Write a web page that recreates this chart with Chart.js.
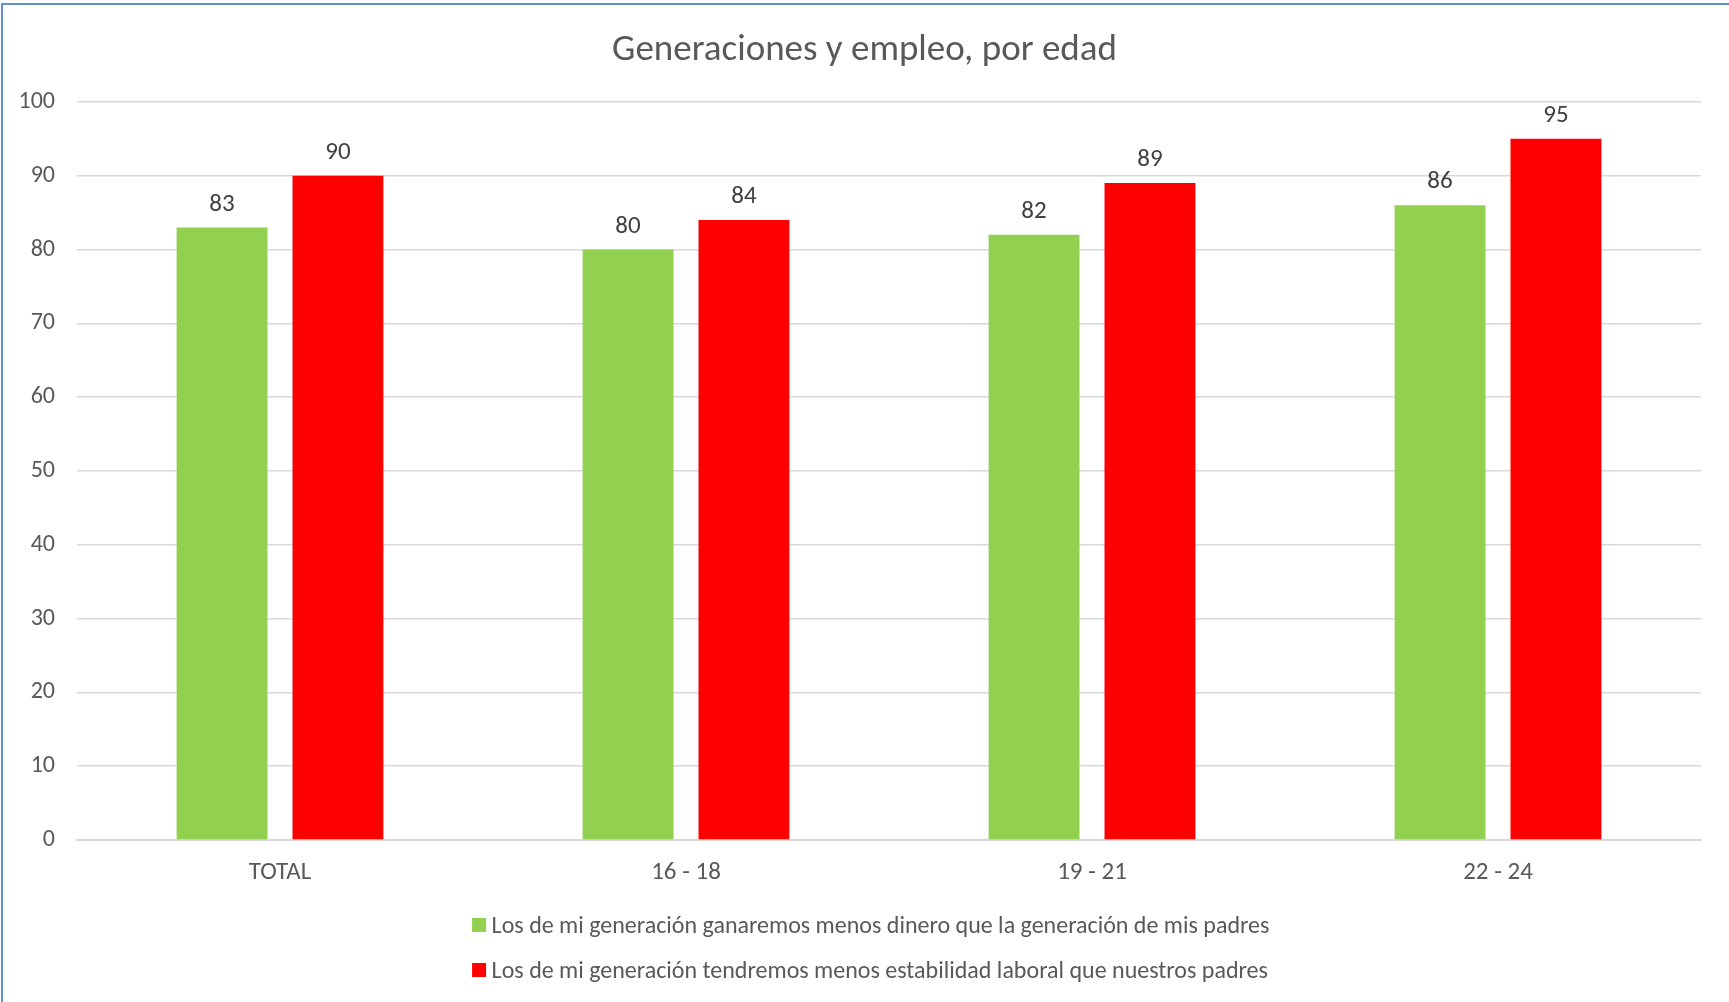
<!DOCTYPE html>
<html>
<head>
<meta charset="utf-8">
<title>Generaciones y empleo, por edad</title>
<script src="https://cdn.jsdelivr.net/npm/chart.js@4.4.0/dist/chart.umd.min.js"></script>
<style>
  html, body { margin: 0; padding: 0; background: #fff; }
  #wrap { position: relative; width: 1729px; height: 1002px; overflow: hidden; }
  #frame { position: absolute; left: 1px; top: 3px; width: 1800px; height: 1100px;
           border-top: 2px solid #6390d0; border-left: 2px solid #6390d0; pointer-events: none; }
  canvas { position: absolute; left: 0; top: 0; }
  #legend { position: absolute; top: 902px; left: 50%; transform: translateX(-50%); margin-left: 6px;
            font-family: Carlito, Lato, sans-serif; font-size: 24px; color: #595959; white-space: nowrap; }
  .item { display: flex; align-items: center; height: 45px; }
  .box { width: 14px; height: 14px; margin-right: 6px; flex: none; }
</style>
</head>
<body>
<div id="wrap">
  <canvas id="chart" width="1729" height="1002"></canvas>
  <div id="legend"></div>
  <div id="frame"></div>
</div>
<script>
// data
const categories = ['TOTAL', '16 - 18', '19 - 21', '22 - 24'];
const menosDinero = [83, 80, 82, 86];
const menosEstabilidad = [90, 84, 89, 95];
const yMin = 0, yMax = 100, yStep = 10;

const labelDinero = 'Los de mi generación ganaremos menos dinero que la generación de mis padres';
const labelEstabilidad = 'Los de mi generación tendremos menos estabilidad laboral que nuestros padres';

const FONT = 'Carlito, Lato, sans-serif';

// values above the bars
const valueLabels = {
  id: 'valueLabels',
  afterDatasetsDraw(chart) {
    const ctx = chart.ctx;
    ctx.save();
    ctx.font = '25px ' + FONT;
    ctx.fillStyle = '#404040';
    ctx.textAlign = 'center';
    ctx.textBaseline = 'middle';
    chart.data.datasets.forEach((ds, i) => {
      chart.getDatasetMeta(i).data.forEach((bar, j) => {
        ctx.fillText(ds.data[j], bar.x, bar.y - 23);
      });
    });
    ctx.restore();
  }
};

const chart = new Chart(document.getElementById('chart'), {
  type: 'bar',
  data: {
    labels: categories,
    datasets: [{
      label: labelDinero,
      data: menosDinero,
      backgroundColor: '#92d050',
      categoryPercentage: 0.571,
      barPercentage: 0.784
    }, {
      label: labelEstabilidad,
      data: menosEstabilidad,
      backgroundColor: '#ff0000',
      categoryPercentage: 0.571,
      barPercentage: 0.784
    }]
  },
  options: {
    responsive: false,
    animation: false,
    layout: { padding: { left: 0, right: 0, top: 0, bottom: 102 } },
    plugins: {
      legend: { display: false },
      tooltip: { enabled: false },
      title: {
        display: true,
        text: 'Generaciones y empleo, por edad',
        color: '#595959',
        font: { family: FONT, size: 37, weight: 'normal', lineHeight: 1.2 },
        padding: { top: 28.5, bottom: 29 }
      }
    },
    scales: {
      x: {
        grid: { display: false, drawTicks: false },
        border: { display: true, color: '#d9d9d9', width: 2 },
        ticks: { color: '#595959', font: { family: FONT, size: 25 }, padding: 18 },
        afterFit: s => { s.height = 60; }
      },
      y: {
        min: yMin,
        max: yMax,
        grid: { color: '#d9d9d9', lineWidth: 1.5, drawTicks: false },
        border: { display: false },
        ticks: { stepSize: yStep, color: '#595959', font: { family: FONT, size: 24 }, padding: 22 },
        afterFit: s => { s.width = 77; }
      },
      // empty right margin so the title centres on the whole chart
      yRight: {
        position: 'right',
        grid: { display: false, drawTicks: false },
        border: { display: false },
        ticks: { display: false },
        afterFit: s => { s.width = 28; }
      }
    }
  },
  plugins: [valueLabels]
});

// legend in two rows, as in the original
const legend = document.getElementById('legend');
chart.data.datasets.forEach(ds => {
  const row = document.createElement('div');
  row.className = 'item';
  const box = document.createElement('span');
  box.className = 'box';
  box.style.background = ds.backgroundColor;
  const txt = document.createElement('span');
  txt.textContent = ds.label;
  row.appendChild(box);
  row.appendChild(txt);
  legend.appendChild(row);
});
</script>
</body>
</html>
